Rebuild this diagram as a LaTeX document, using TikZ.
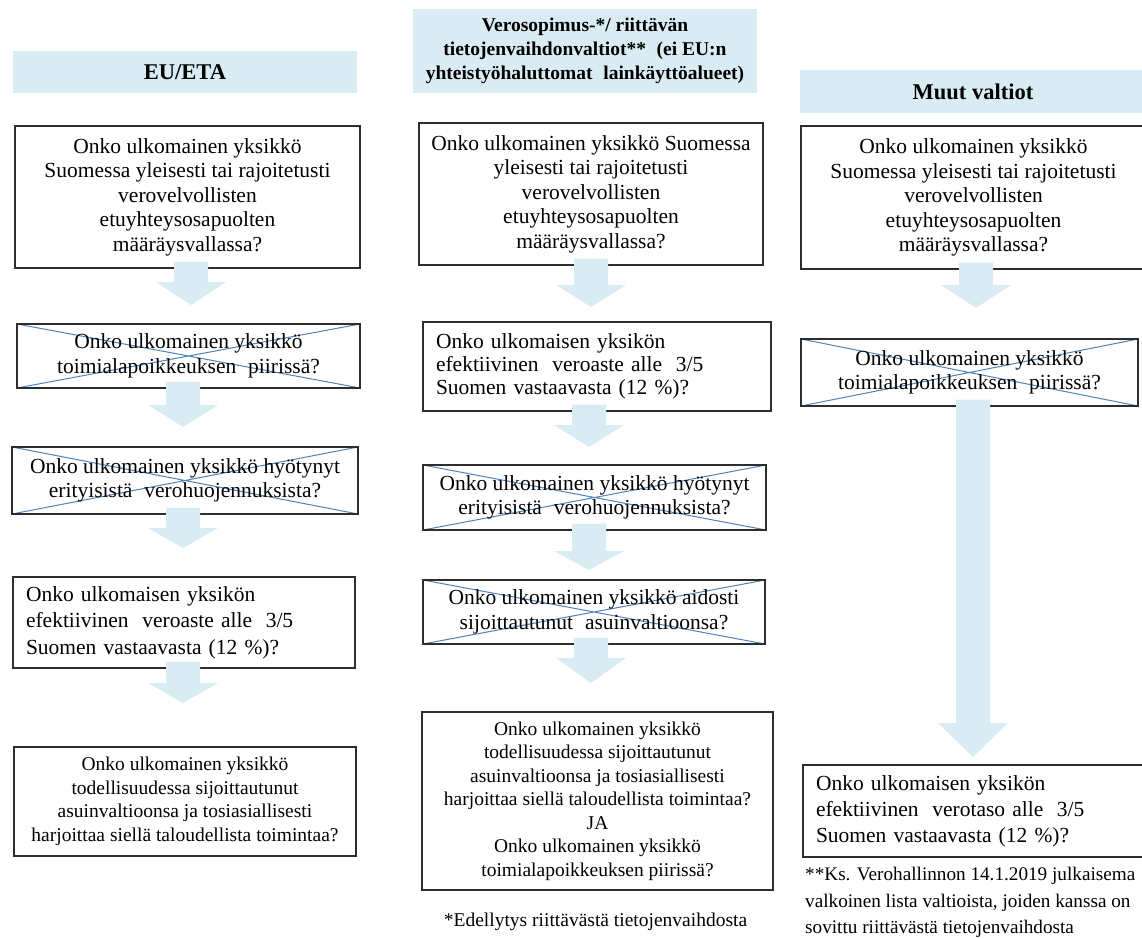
\documentclass[tikz,border=0pt]{standalone}
\usepackage{fontspec}
\setmainfont{Liberation Serif}
\usetikzlibrary{calc}
\definecolor{hdr}{RGB}{218,236,243}
\definecolor{crossc}{RGB}{79,129,189}
\definecolor{bord}{RGB}{45,45,45}
\newcommand{\blockarr}[3]{%
  \fill[hdr] let \p1=(#1.south), \p2=(#2) in
  (\x2-17pt,\y1+7pt) -- (\x2+17pt,\y1+7pt) -- (\x2+17pt,\y2+#3) -- (\x2+35pt,\y2+#3)
  -- (\x2,\y2) -- (\x2-35pt,\y2+#3) -- (\x2-17pt,\y2+#3) -- cycle;}
\newcommand{\dsp}{\hspace{0.3em}}
\tikzset{
  box/.style={draw=bord, line width=1.4pt, inner sep=0pt, align=center,
    font=\fontsize{21.5}{24.5}\selectfont},
  smallbox/.style={box, font=\fontsize{19.5}{23.5}\selectfont},
  crossed/.style={box, path picture={\draw[crossc, line width=1pt]
    (path picture bounding box.north west) -- (path picture bounding box.south east)
    (path picture bounding box.south west) -- (path picture bounding box.north east);}},
  leftbox/.style={box, align=left, inner xsep=13pt},
  hdrbox/.style={fill=hdr, inner sep=0pt, align=center},
  note/.style={inner sep=0pt, align=left, font=\fontsize{19.5}{27.5}\selectfont}
}
\begin{document}
\begin{tikzpicture}[x=1pt, y=-1pt]
\useasboundingbox (0,0) rectangle (1142,938);
\clip (0,0) rectangle (1142,938);
% headers
\node[hdrbox, minimum width=344pt, minimum height=42pt, font=\bfseries\fontsize{22.5}{24}\selectfont] (h1) at (185,72) {EU/ETA};
\node[hdrbox, minimum width=344pt, minimum height=84pt, font=\bfseries\fontsize{19.5}{24}\selectfont] (h2) at (585,51)
  {Verosopimus-*/ riittävän\\tietojenvaihdonvaltiot**\dsp{} (ei EU:n\\yhteistyöhaluttomat\dsp{} lainkäyttöalueet)};
\node[hdrbox, minimum width=346pt, minimum height=43pt, font=\bfseries\fontsize{22.5}{24}\selectfont] (h3) at (973,91.5) {Muut valtiot};
% column 1
\node[box, minimum width=345pt, minimum height=142pt] (a1) at (187.5,197)
  {Onko ulkomainen yksikkö\\Suomessa yleisesti tai rajoitetusti\\verovelvollisten\\etuyhteysosapuolten\\määräysvallassa?};
\node[crossed, minimum width=343pt, minimum height=64pt] (a2) at (188.5,356)
  {Onko ulkomainen yksikkö\\toimialapoikkeuksen\dsp{} piirissä?};
\node[crossed, minimum width=346pt, minimum height=67pt] (a3) at (185,480.5)
  {Onko ulkomainen yksikkö hyötynyt\\erityisistä\dsp{} verohuojennuksista?};
\node[leftbox, text width=316pt, minimum height=91pt, font=\fontsize{21.5}{26.5}\selectfont] (a4) at (184,622.5)
  {Onko ulkomaisen yksikön\\efektiivinen\dsp{} veroaste alle\dsp{} 3/5\\Suomen vastaavasta (12 \%)?};
\node[smallbox, minimum width=342pt, minimum height=109pt] (a5) at (185,801.5)
  {Onko ulkomainen yksikkö\\todellisuudessa sijoittautunut\\asuinvaltioonsa ja tosiasiallisesti\\harjoittaa siellä taloudellista toimintaa?};
% column 2
\node[box, minimum width=344pt, minimum height=142pt] (b1) at (591,194)
  {Onko ulkomainen yksikkö Suomessa\\yleisesti tai rajoitetusti\\verovelvollisten\\etuyhteysosapuolten\\määräysvallassa?};
\node[leftbox, text width=322pt, minimum height=89pt, font=\fontsize{21.5}{23}\selectfont] (b2) at (597,366.5)
  {Onko ulkomaisen yksikön\\efektiivinen\dsp{} veroaste alle\dsp{} 3/5\\Suomen vastaavasta (12 \%)?};
\node[crossed, minimum width=343pt, minimum height=65pt] (b3) at (594.5,497.5)
  {Onko ulkomainen yksikkö hyötynyt\\erityisistä\dsp{} verohuojennuksista?};
\node[crossed, minimum width=342pt, minimum height=64pt] (b4) at (594,612)
  {Onko ulkomainen yksikkö aidosti\\sijoittautunut\dsp{} asuinvaltioonsa?};
\node[smallbox, minimum width=351pt, minimum height=178pt] (b5) at (597.5,801)
  {Onko ulkomainen yksikkö\\todellisuudessa sijoittautunut\\asuinvaltioonsa ja tosiasiallisesti\\harjoittaa siellä taloudellista toimintaa?\\JA\\Onko ulkomainen yksikkö\\toimialapoikkeuksen piirissä?};
\node[note, anchor=base] (n1) at (595.5,926) {*Edellytys riittävästä tietojenvaihdosta};
% column 3
\node[box, minimum width=345pt, minimum height=143pt] (c1) at (973.5,197.5)
  {Onko ulkomainen yksikkö\\Suomessa yleisesti tai rajoitetusti\\verovelvollisten\\etuyhteysosapuolten\\määräysvallassa?};
\node[crossed, minimum width=337pt, minimum height=67pt] (c2) at (969.5,372.5)
  {Onko ulkomainen yksikkö\\toimialapoikkeuksen\dsp{} piirissä?};
\node[leftbox, text width=319pt, minimum height=92pt, font=\fontsize{21.5}{26}\selectfont] (c3) at (975.5,811)
  {Onko ulkomaisen yksikön\\efektiivinen\dsp{} verotaso alle\dsp{} 3/5\\Suomen vastaavasta (12 \%)?};
\node[note, anchor=north west, font=\fontsize{19.2}{26.5}\selectfont] (n2) at (805,867)
  {**Ks. Verohallinnon 14.1.2019 julkaisema\\valkoinen lista valtioista, joiden kanssa on\\sovittu riittävästä tietojenvaihdosta};
% arrow tips
\coordinate (t1) at (191,305);
\coordinate (t2) at (183,427);
\coordinate (t3) at (183,548);
\coordinate (t4) at (183,703);
\coordinate (u1) at (591,307);
\coordinate (u2) at (589,447);
\coordinate (u3) at (589,570);
\coordinate (u4) at (591,683);
\coordinate (v1) at (976,308);
\coordinate (v2) at (973,757);
\blockarr{a1}{t1}{23pt}
\blockarr{a2}{t2}{22pt}
\blockarr{a3}{t3}{20pt}
\blockarr{a4}{t4}{20pt}
\blockarr{b1}{u1}{22pt}
\blockarr{b2}{u2}{22pt}
\blockarr{b3}{u3}{19pt}
\blockarr{b4}{u4}{25pt}
\blockarr{c1}{v1}{23pt}
\blockarr{c2}{v2}{34pt}
\end{tikzpicture}
\end{document}
